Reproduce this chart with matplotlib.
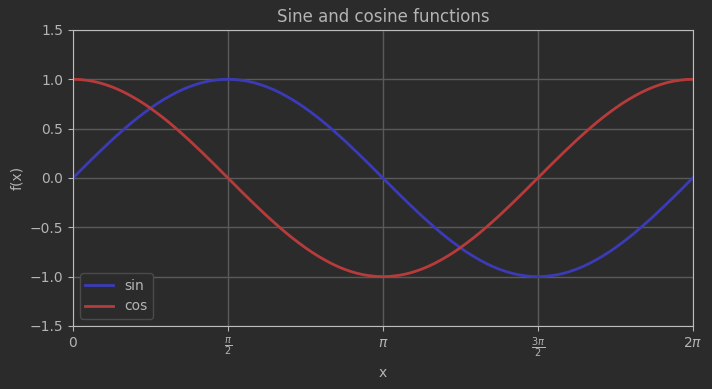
import numpy as np
import matplotlib
matplotlib.use("Agg")
import matplotlib.pyplot as plt

sin_vals = [0.000, 0.065, 0.131, 0.195, 0.259, 0.321, 0.383, 0.442, 0.500, 0.556, 0.609, 0.659,
            0.707, 0.752, 0.793, 0.831, 0.866, 0.897, 0.924, 0.947, 0.966, 0.981, 0.991, 0.998,
            1.000, 0.998, 0.991, 0.981, 0.966, 0.947, 0.924, 0.897, 0.866, 0.831, 0.793, 0.752,
            0.707, 0.659, 0.609, 0.556, 0.500, 0.442, 0.383, 0.321, 0.259, 0.195, 0.131, 0.065,
            0.000, -0.065, -0.131, -0.195, -0.259, -0.321, -0.383, -0.442, -0.500, -0.556, -0.609, -0.659,
            -0.707, -0.752, -0.793, -0.831, -0.866, -0.897, -0.924, -0.947, -0.966, -0.981, -0.991, -0.998,
            -1.000, -0.998, -0.991, -0.981, -0.966, -0.947, -0.924, -0.897, -0.866, -0.831, -0.793, -0.752,
            -0.707, -0.659, -0.609, -0.556, -0.500, -0.442, -0.383, -0.321, -0.259, -0.195, -0.131, -0.065,
            0.000]
cos_vals = [1.000, 0.998, 0.991, 0.981, 0.966, 0.947, 0.924, 0.897, 0.866, 0.831, 0.793, 0.752,
            0.707, 0.659, 0.609, 0.556, 0.500, 0.442, 0.383, 0.321, 0.259, 0.195, 0.131, 0.065,
            0.000, -0.065, -0.131, -0.195, -0.259, -0.321, -0.383, -0.442, -0.500, -0.556, -0.609, -0.659,
            -0.707, -0.752, -0.793, -0.831, -0.866, -0.897, -0.924, -0.947, -0.966, -0.981, -0.991, -0.998,
            -1.000, -0.998, -0.991, -0.981, -0.966, -0.947, -0.924, -0.897, -0.866, -0.831, -0.793, -0.752,
            -0.707, -0.659, -0.609, -0.556, -0.500, -0.442, -0.383, -0.321, -0.259, -0.195, -0.131, -0.065,
            0.000, 0.065, 0.131, 0.195, 0.259, 0.321, 0.383, 0.442, 0.500, 0.556, 0.609, 0.659,
            0.707, 0.752, 0.793, 0.831, 0.866, 0.897, 0.924, 0.947, 0.966, 0.981, 0.991, 0.998,
            1.000]
x = np.linspace(0, 2 * np.pi, len(sin_vals))

xtick_pos = [0, np.pi / 2, np.pi, 3 * np.pi / 2, 2 * np.pi]
xtick_labels = ['0', r'$\frac{\pi}{2}$', r'$\pi$', r'$\frac{3\pi}{2}$', r'$2\pi$']

bg = '#2b2b2b'
fg = '#b4b4b4'

fig = plt.figure(figsize=(7.12, 3.89), dpi=100, facecolor=bg)
ax = fig.add_axes([0.1025, 0.162, 0.8705, 0.761], facecolor=bg)

ax.plot(x, sin_vals, color='#3b3bb8', lw=2, label='sin')
ax.plot(x, cos_vals, color='#b83b3b', lw=2, label='cos')

ax.set_xlim(0, 2 * np.pi)
ax.set_ylim(-1.5, 1.5)
ax.set_xticks(xtick_pos)
ax.set_xticklabels(xtick_labels)
ax.set_yticks([-1.5, -1.0, -0.5, 0.0, 0.5, 1.0, 1.5])

ax.grid(True, color='#5a5a5a', lw=1)
ax.set_axisbelow(True)
for s in ax.spines.values():
    s.set_color('#bdbdbd')
ax.tick_params(colors=fg, labelsize=10)

ax.set_title('Sine and cosine functions', color=fg, fontsize=12)
ax.set_xlabel('x', color=fg, labelpad=4)
ax.set_ylabel('f(x)', color=fg)

leg = ax.legend(loc='lower left', facecolor=bg, edgecolor='#4a4a4a', framealpha=1)
for t in leg.get_texts():
    t.set_color(fg)

fig.savefig('out.png', dpi=100, facecolor=bg)
